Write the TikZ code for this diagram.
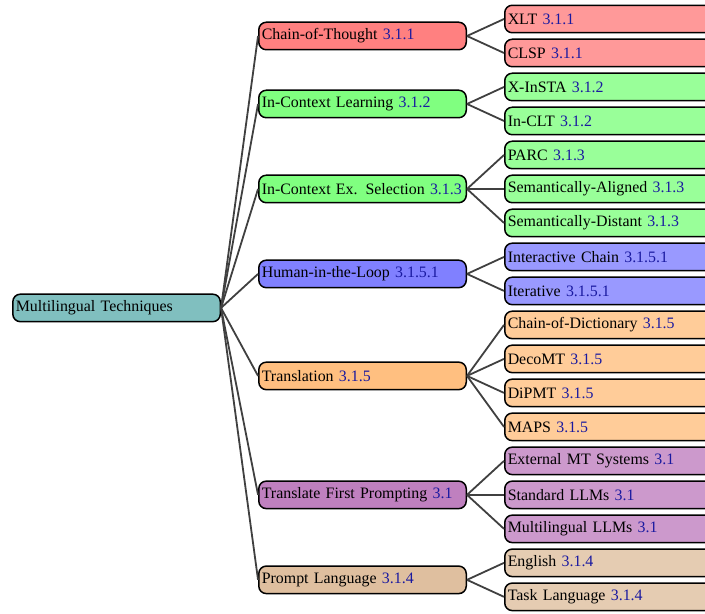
\documentclass[tikz,border=0pt]{standalone}
\usepackage{fontspec}
\setmainfont{Liberation Serif}
\usepackage{tikz}
\usetikzlibrary{positioning,calc}
\definecolor{secblue}{RGB}{25,25,160}
\newcommand{\secnum}[1]{\textcolor{secblue}{#1}}

\begin{document}
\begin{tikzpicture}[
      auto,
      node distance=3.33pt
    ]

    \tikzstyle{box} = [rectangle, rounded corners=5pt, draw=black, line width=1pt, minimum height=18.33pt, text width=134.3pt, align=left, inner xsep=2pt, inner ysep=0pt, font=\fontsize{10.6}{12.7}\selectfont]

    \tikzstyle{link} = [draw=black!75, line width=1.2pt]

    \useasboundingbox (0,0) rectangle (470pt,-408.67pt);

    % leaves, stacked top to bottom
    \node [box, fill=red!40, anchor=west] (xlt) at (336pt,-12.67pt) {XLT \secnum{3.1.1}};
    \node [box, fill=red!40, below=of xlt] (clsp) {CLSP \secnum{3.1.1}};
    \node [box, fill=green!40, below=of clsp] (xinsta) {X-InSTA \secnum{3.1.2}};
    \node [box, fill=green!40, below=of xinsta] (inclt) {In-CLT \secnum{3.1.2}};
    \node [box, fill=green!40, below=of inclt] (parc) {PARC \secnum{3.1.3}};
    \node [box, fill=green!40, below=of parc] (semal) {Semantically-Aligned \secnum{3.1.3}};
    \node [box, fill=green!40, below=of semal] (semdi) {Semantically-Distant \secnum{3.1.3}};
    \node [box, fill=blue!40, below=of semdi] (ichain) {Interactive Chain \secnum{3.1.5.1}};
    \node [box, fill=blue!40, below=of ichain] (iter) {Iterative \secnum{3.1.5.1}};
    \node [box, fill=orange!40, below=of iter] (cod) {Chain-of-Dictionary \secnum{3.1.5}};
    \node [box, fill=orange!40, below=of cod] (decomt) {DecoMT \secnum{3.1.5}};
    \node [box, fill=orange!40, below=of decomt] (dipmt) {DiPMT \secnum{3.1.5}};
    \node [box, fill=orange!40, below=of dipmt] (maps) {MAPS \secnum{3.1.5}};
    \node [box, fill=violet!40, below=of maps] (extmt) {External MT Systems \secnum{3.1}};
    \node [box, fill=violet!40, below=of extmt] (stdllm) {Standard LLMs \secnum{3.1}};
    \node [box, fill=violet!40, below=of stdllm] (mllm) {Multilingual LLMs \secnum{3.1}};
    \node [box, fill=brown!40, below=of mllm] (english) {English \secnum{3.1.4}};
    \node [box, fill=brown!40, below=of english] (tasklang) {Task Language \secnum{3.1.4}};

    % categories, centred on their leaves
    \coordinate (cotmid) at ($(xlt.west)!0.5!(clsp.west)$);
    \coordinate (iclmid) at ($(xinsta.west)!0.5!(inclt.west)$);
    \coordinate (icesmid) at (semal.west);
    \coordinate (hitlmid) at ($(ichain.west)!0.5!(iter.west)$);
    \coordinate (transmid) at ($(cod.west)!0.5!(maps.west)$);
    \coordinate (tfpmid) at (stdllm.west);
    \coordinate (plangmid) at ($(english.west)!0.5!(tasklang.west)$);

    \node [box, fill=red!50, left=24.67pt of cotmid] (cot) {Chain-of-Thought \secnum{3.1.1}};
    \node [box, fill=green!50, left=24.67pt of iclmid] (icl) {In-Context Learning \secnum{3.1.2}};
    \node [box, fill=green!50, left=24.67pt of icesmid] (ices) {In-Context Ex. Selection \secnum{3.1.3}};
    \node [box, fill=blue!50, left=24.67pt of hitlmid] (hitl) {Human-in-the-Loop \secnum{3.1.5.1}};
    \node [box, fill=orange!50, left=24.67pt of transmid] (trans) {Translation \secnum{3.1.5}};
    \node [box, fill=violet!50, left=24.67pt of tfpmid] (tfp) {Translate First Prompting \secnum{3.1}};
    \node [box, fill=brown!50, left=24.67pt of plangmid] (plang) {Prompt Language \secnum{3.1.4}};

    \coordinate (rootmid) at ($(cot.west)!0.5!(plang.west)$);
    \node [box, fill=teal!50, left=24.67pt of rootmid] (mlt) {Multilingual Techniques};

    \foreach \c in {cot,icl,ices,hitl,trans,tfp,plang}
      \draw [link] (mlt.east) -- (\c.west);

    \foreach \c/\l in {cot/xlt, cot/clsp, icl/xinsta, icl/inclt, ices/parc, ices/semal, ices/semdi,
                       hitl/ichain, hitl/iter, trans/cod, trans/decomt, trans/dipmt, trans/maps,
                       tfp/extmt, tfp/stdllm, tfp/mllm, plang/english, plang/tasklang}
      \draw [link] (\c.east) -- (\l.west);

\end{tikzpicture}
\end{document}
